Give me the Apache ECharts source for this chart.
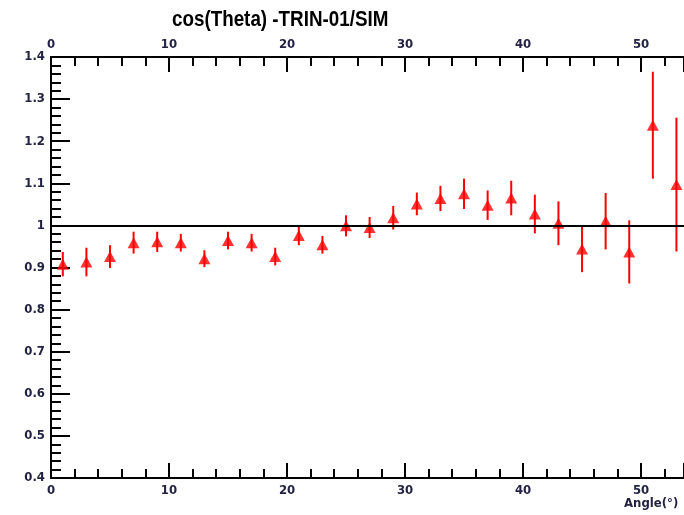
<!DOCTYPE html>
<html>
<head>
<meta charset="utf-8">
<script src="https://cdn.jsdelivr.net/npm/echarts@6/dist/echarts.min.js"></script>
<style>html,body{margin:0;padding:0;background:#fff}#c{width:684px;height:515px}</style>
</head>
<body>
<div id="c"></div>
<script>
const angles = [1,3,5,7,9,11,13,15,17,19,21,23,25,27,29,31,33,35,37,39,41,43,45,47,49,51,53];
const ratio  = [0.908,0.913,0.926,0.959,0.961,0.959,0.921,0.964,0.959,0.926,0.976,0.954,0.999,0.995,1.018,1.051,1.064,1.075,1.048,1.065,1.027,1.005,0.944,1.010,0.937,1.238,1.097];
const errs   = [0.029,0.034,0.027,0.026,0.024,0.021,0.020,0.021,0.021,0.021,0.023,0.021,0.025,0.025,0.028,0.027,0.030,0.036,0.035,0.041,0.046,0.052,0.055,0.067,0.075,0.127,0.159];
const xTickLabels = [0,10,20,30,40,50];
const yTickLabels = [0.4,0.5,0.6,0.7,0.8,0.9,1,1.1,1.2,1.3,1.4];
const refLine = 1;
const titleText = 'cos(Theta) -TRIN-01/SIM';

const FONT = '"DejaVu Sans Condensed","Liberation Sans Narrow",Arial,sans-serif';
const TFONT = '"Liberation Sans",Arial,Helvetica,sans-serif';
const labelColor = '#222244';

const points = angles.map((a,i)=>[a, ratio[i]]);
const bars = angles.map((a,i)=>[a, ratio[i]-errs[i], ratio[i]+errs[i]]);

const chart = echarts.init(document.getElementById('c'));
const xCommon = {
  type:'value', min:0, max:53.64, interval:10,
  axisLine:{show:true, lineStyle:{color:'#000', width:2}},
  axisTick:{show:true, inside:true, length:15, lineStyle:{color:'#000', width:2}},
  minorTick:{show:true, splitNumber:5, length:9, lineStyle:{color:'#000', width:2}},
  splitLine:{show:false},
  axisLabel:{color:labelColor, fontFamily:FONT, fontSize:13, fontWeight:'bold', margin:6,
    showMaxLabel:false,
    formatter:v=> xTickLabels.indexOf(v)>=0 ? String(v) : ''}
};
chart.setOption({
  animation:false,
  grid:{left:51, top:57, right:0, height:421, containLabel:false},
  xAxis:[
    Object.assign({}, xCommon, {position:'bottom'}),
    Object.assign({}, xCommon, {position:'top'})
  ],
  yAxis:{
    type:'value', min:0.4, max:1.4, interval:0.1, position:'left',
    axisLine:{show:true, lineStyle:{color:'#000', width:2}},
    axisTick:{show:true, inside:true, length:19, lineStyle:{color:'#000', width:2}},
    minorTick:{show:true, splitNumber:5, length:10, lineStyle:{color:'#000', width:2}},
    splitLine:{show:false},
    axisLabel:{color:labelColor, fontFamily:FONT, fontSize:13, fontWeight:'bold', margin:6,
      formatter:v=>{ const r=Math.round(v*10)/10; return yTickLabels.indexOf(r)>=0 ? String(r) : ''; }}
  },
  graphic:[
    {type:'text', x:172, y:9, scaleX:0.855, scaleY:1,
      style:{text:titleText, fontFamily:TFONT, fontSize:22, fontWeight:'bold', fill:'#000'}},
    {type:'text', left:624, top:497,
      style:{text:'Angle(°)', fontFamily:FONT, fontSize:13, fontWeight:'bold', fill:labelColor}}
  ],
  series:[
    {
      type:'custom', xAxisIndex:0, data:bars, z:3,
      renderItem:(params, api)=>{
        const lo = api.coord([api.value(0), api.value(1)]);
        const hi = api.coord([api.value(0), api.value(2)]);
        return {type:'line', shape:{x1:lo[0], y1:lo[1], x2:hi[0], y2:hi[1]},
          style:{stroke:'#ff0000', lineWidth:2}};
      }
    },
    {
      type:'scatter', xAxisIndex:0, data:points, symbol:'triangle', symbolSize:[12,11], z:4,
      itemStyle:{color:'#ff0000'},
      markLine:{silent:true, symbol:'none', label:{show:false},
        lineStyle:{color:'#000', width:2, type:'solid'},
        data:[{yAxis:refLine}]}
    }
  ]
});
</script>
</body>
</html>
